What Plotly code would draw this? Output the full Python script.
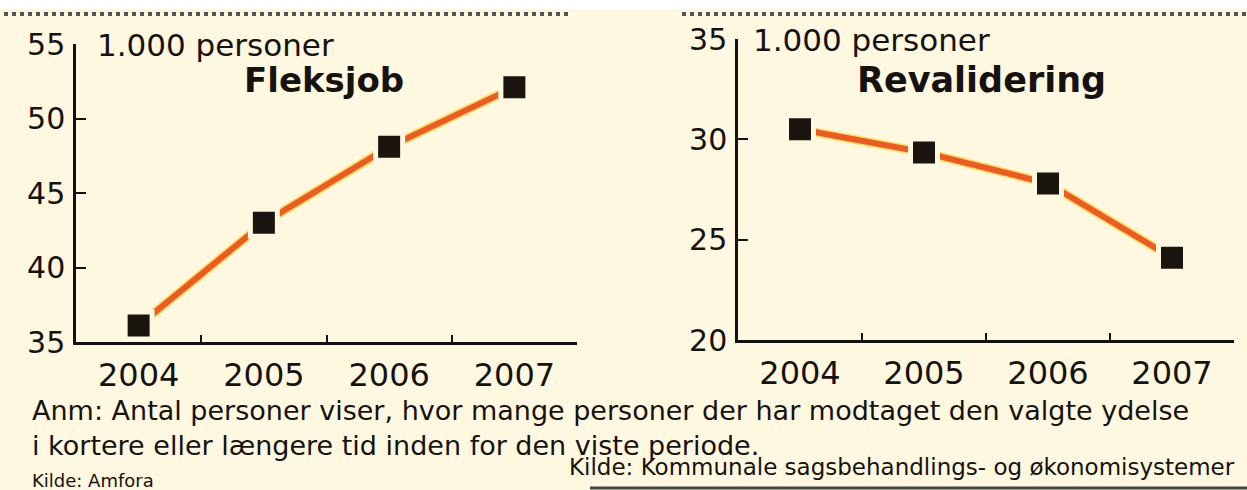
import plotly.graph_objects as go

W, H = 1247, 490

years = ["2004", "2005", "2006", "2007"]
fleksjob = [36.1, 43.0, 48.1, 52.1]
revalidering = [30.5, 29.35, 27.8, 24.1]
left_yticks = [35, 40, 45, 50, 55]
right_yticks = [20, 25, 30, 35]

BG = "#fdf8df"
LINE = "#ef5a22"
HALO = "#f7de60"
MARK = "#1b1510"
FONT = "DejaVu Sans"
TXT = "#161210"

def px(x):
    return x / W

def py(y):
    return 1 - y / H

fig = go.Figure()

for vals, xa, ya in [(fleksjob, "x", "y"), (revalidering, "x2", "y2")]:
    fig.add_trace(go.Scatter(x=years, y=vals, xaxis=xa, yaxis=ya, mode="lines",
                             line=dict(color=HALO, width=9), hoverinfo="skip", showlegend=False))
    fig.add_trace(go.Scatter(x=years, y=vals, xaxis=xa, yaxis=ya, mode="lines+markers",
                             line=dict(color=LINE, width=6),
                             marker=dict(symbol="square", size=27, color=MARK,
                                         line=dict(color=BG, width=5)),
                             showlegend=False))

axis_common = dict(showgrid=False, zeroline=False, showline=True, linecolor="#111",
                   linewidth=2.5, ticks="inside", tickcolor="#111", tickwidth=2,
                   fixedrange=True, automargin=False)

fig.update_layout(
    template="none",
    width=W, height=H,
    margin=dict(l=0, r=0, t=0, b=0, pad=0),
    paper_bgcolor=BG, plot_bgcolor=BG,
    font=dict(family=FONT, color=TXT),
    xaxis=dict(domain=[px(76), px(577)], anchor="y", type="category",
               range=[-0.5, 3.5], tickson="boundaries", ticklen=7,
               tickfont=dict(size=32), ticklabelstandoff=3, **axis_common),
    yaxis=dict(domain=[py(342), py(44)], anchor="x", range=[35, 55],
               tickvals=left_yticks, ticklen=10, tickfont=dict(size=30),
               ticklabelstandoff=2, **axis_common),
    xaxis2=dict(domain=[px(738), px(1234)], anchor="y2", type="category",
                range=[-0.5, 3.5], tickson="boundaries", ticklen=7,
                tickfont=dict(size=32), ticklabelstandoff=3, **axis_common),
    yaxis2=dict(domain=[py(340), py(39)], anchor="x2", range=[20, 35],
                tickvals=right_yticks, ticklen=10, tickfont=dict(size=30),
                ticklabelstandoff=2, **axis_common),
)

def ann(text, x, y, size, xanchor="left", bold=False):
    fig.add_annotation(text=f"<b>{text}</b>" if bold else text, x=px(x), y=py(y),
                       xref="paper", yref="paper", xanchor=xanchor, yanchor="middle",
                       align=xanchor if xanchor != "center" else "center",
                       showarrow=False, font=dict(size=size, family=FONT, color=TXT))

ann("1.000 personer", 95, 45, 31)
ann("1.000 personer", 751, 40, 31)
ann("Fleksjob", 242, 80, 34, bold=True)
ann("Revalidering", 855, 80, 35, bold=True)
ann("Anm: Antal personer viser, hvor mange personer der har modtaget den valgte ydelse"
    "<br>i kortere eller længere tid inden for den viste periode.", 30, 428, 27)
ann("Kilde: Amfora", 30, 480, 18)
ann("Kilde: Kommunale sagsbehandlings- og økonomisystemer", 1237, 467, 23, xanchor="right")

# decorative rules
fig.add_shape(type="rect", xref="paper", yref="paper", x0=0, x1=1, y0=py(9), y1=1,
              fillcolor="white", line_width=0, layer="below")
for x0, x1 in [(4, 570), (682, 1247)]:
    fig.add_shape(type="line", xref="paper", yref="paper", x0=px(x0), x1=px(x1),
                  y0=py(14), y1=py(14), line=dict(color="#555", width=4, dash="dot"))
fig.add_shape(type="line", xref="paper", yref="paper", x0=px(590), x1=1,
              y0=py(488), y1=py(488), line=dict(color="#444", width=3))

fig.write_html("out.html", config={"displayModeBar": False},
               post_script="document.body.style.margin='0';document.body.style.overflow='hidden';")
